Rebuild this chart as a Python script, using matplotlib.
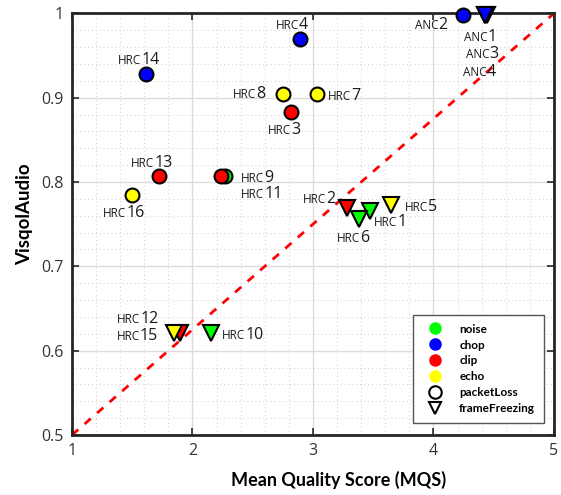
import matplotlib
matplotlib.use("Agg")
import matplotlib.pyplot as plt
from matplotlib.lines import Line2D
from matplotlib.ticker import MultipleLocator

plt.rcParams["font.family"] = ["Open Sans", "DejaVu Sans"]

# ---------------------------------------------------------------------------
# Data: one entry per condition (drawn in this order)
# ---------------------------------------------------------------------------
prefixes = ["ANC", "ANC", "ANC", "ANC",
            "HRC", "HRC", "HRC", "HRC", "HRC", "HRC", "HRC", "HRC",
            "HRC", "HRC", "HRC", "HRC", "HRC", "HRC", "HRC", "HRC"]
numbers = ["1", "2", "3", "4",
           "1", "2", "3", "4", "5", "6", "7", "8",
           "9", "10", "11", "12", "13", "14", "15", "16"]
mqs = [4.427, 4.245, 4.44, 4.427,
       3.473, 3.282, 2.817, 2.892, 3.647, 3.382, 3.033, 2.751,
       2.270, 2.154, 2.237, 1.896, 1.722, 1.614, 1.846, 1.498]
visqol = [0.998, 0.998, 0.998, 0.998,
          0.766, 0.769, 0.883, 0.970, 0.773, 0.756, 0.904, 0.904,
          0.807, 0.621, 0.807, 0.621, 0.807, 0.928, 0.621, 0.785]
distortion = ["noise", "chop", "clip", "chop",
              "noise", "clip", "clip", "chop", "echo", "noise", "echo", "echo",
              "noise", "noise", "clip", "clip", "clip", "chop", "echo", "echo"]
loss = ["frameFreezing", "packetLoss", "frameFreezing", "frameFreezing",
        "frameFreezing", "frameFreezing", "packetLoss", "packetLoss",
        "frameFreezing", "frameFreezing", "packetLoss", "packetLoss",
        "packetLoss", "frameFreezing", "packetLoss", "frameFreezing",
        "packetLoss", "packetLoss", "frameFreezing", "packetLoss"]

distortion_types = ["noise", "chop", "clip", "echo"]
loss_types = ["packetLoss", "frameFreezing"]

# ---------------------------------------------------------------------------
# Styles / layout
# ---------------------------------------------------------------------------
colors = {"noise": "#00ff00", "chop": "#0000ff", "clip": "#ff0000", "echo": "#ffff00"}
markers = {"packetLoss": "o", "frameFreezing": "v"}

# label offsets in pixels (left/baseline of prefix relative to the point)
label_offsets = {
    "ANC1": (-21, -26), "ANC2": (-48, -14), "ANC3": (-21, -43), "ANC4": (-22, -61),
    "HRC1": (4, -15), "HRC2": (-44, 5), "HRC3": (-23, -22), "HRC4": (-24, 10),
    "HRC5": (14, -6), "HRC6": (-22, -23), "HRC7": (11, -6), "HRC8": (-50, -4),
    "HRC9": (16, -6), "HRC10": (11, -6), "HRC11": (20, -22), "HRC12": (-63, 10),
    "HRC13": (-28, 9), "HRC14": (-28, 10), "HRC15": (-57, -7), "HRC16": (-29, -22),
}

fig = plt.figure(figsize=(5.61, 4.95), dpi=100)
ax = fig.add_axes([0.1283, 0.1212, 0.8592, 0.8519])

ax.set_xlim(1, 5)
ax.set_ylim(0.5, 1)
ax.xaxis.set_major_locator(MultipleLocator(1))
ax.xaxis.set_minor_locator(MultipleLocator(0.2))
ax.yaxis.set_major_locator(MultipleLocator(0.1))
ax.yaxis.set_minor_locator(MultipleLocator(0.02))
ax.grid(which="major", color="#dcdcdc", linewidth=1.0, zorder=0)
ax.grid(which="minor", color="#cccccc", linestyle=(0, (1, 3)), linewidth=0.7, zorder=0)
ax.set_axisbelow(True)

ax.tick_params(which="major", direction="in", length=5, width=1.2,
               top=True, right=True, labelsize=11.5, colors="#262626",
               labelcolor="#333333", pad=6)
ax.tick_params(which="minor", length=0, top=True, right=True)
ax.set_yticks([0.5, 0.6, 0.7, 0.8, 0.9, 1.0])
ax.set_yticklabels(["0.5", "0.6", "0.7", "0.8", "0.9", "1"])
for s in ax.spines.values():
    s.set_linewidth(2)
    s.set_color("#262626")

# diagonal reference
ax.plot([1, 5], [0.5, 1], color="#ff0000", linestyle=(0, (3, 3)), linewidth=2, zorder=2)

prefix_texts = []
for i in range(len(mqs)):
    ax.plot(mqs[i], visqol[i], linestyle="none", marker=markers[loss[i]],
            markersize=10 if loss[i] == "packetLoss" else 11,
            markerfacecolor=colors[distortion[i]], markeredgecolor="black",
            markeredgewidth=1.5, clip_on=False, zorder=3)
    dx, dy = label_offsets[prefixes[i] + numbers[i]]
    t = ax.annotate(prefixes[i], (mqs[i], visqol[i]), xytext=(dx, dy),
                    textcoords="offset pixels", fontsize=8.5, color="#1a1a1a",
                    ha="left", va="baseline", zorder=4)
    prefix_texts.append(t)

# second pass: put the (larger) number right after its small-caps prefix,
# sharing the same baseline
renderer = fig.canvas.get_renderer()
for i, t in enumerate(prefix_texts):
    dx, dy = label_offsets[prefixes[i] + numbers[i]]
    w = t.get_window_extent(renderer).width
    ax.annotate(numbers[i], (mqs[i], visqol[i]), xytext=(dx + w, dy),
                textcoords="offset pixels", fontsize=11.5, color="#1a1a1a",
                ha="left", va="baseline", zorder=4)

ax.set_xlabel("Mean Quality Score (MQS)", fontsize=13, fontweight="bold",
              family="Lato", labelpad=3)
ax.xaxis.set_label_coords(0.554, -0.085)
ax.set_ylabel("VisqolAudio", fontsize=13.5, fontweight="bold", family="Lato")
ax.yaxis.set_label_coords(-0.081, 0.524)

handles = [Line2D([], [], linestyle="none", marker="o", markersize=8,
                  markerfacecolor=colors[d], markeredgecolor=colors[d], label=d)
           for d in distortion_types]
handles += [Line2D([], [], linestyle="none", marker=markers[l], markersize=9,
                   markerfacecolor="white", markeredgecolor="black",
                   markeredgewidth=1.5, label=l)
            for l in loss_types]
leg = ax.legend(handles=handles, loc="lower right", bbox_to_anchor=(0.979, 0.028),
                borderaxespad=0, fancybox=False, framealpha=1, edgecolor="#555555",
                prop={"weight": "bold", "size": 8.5, "family": "Lato"},
                handletextpad=0.9, labelspacing=0.42, borderpad=0.75,
                handlelength=2.3)
leg.get_frame().set_linewidth(1)
leg.set_zorder(5)

fig.savefig("out.png", dpi=100)
